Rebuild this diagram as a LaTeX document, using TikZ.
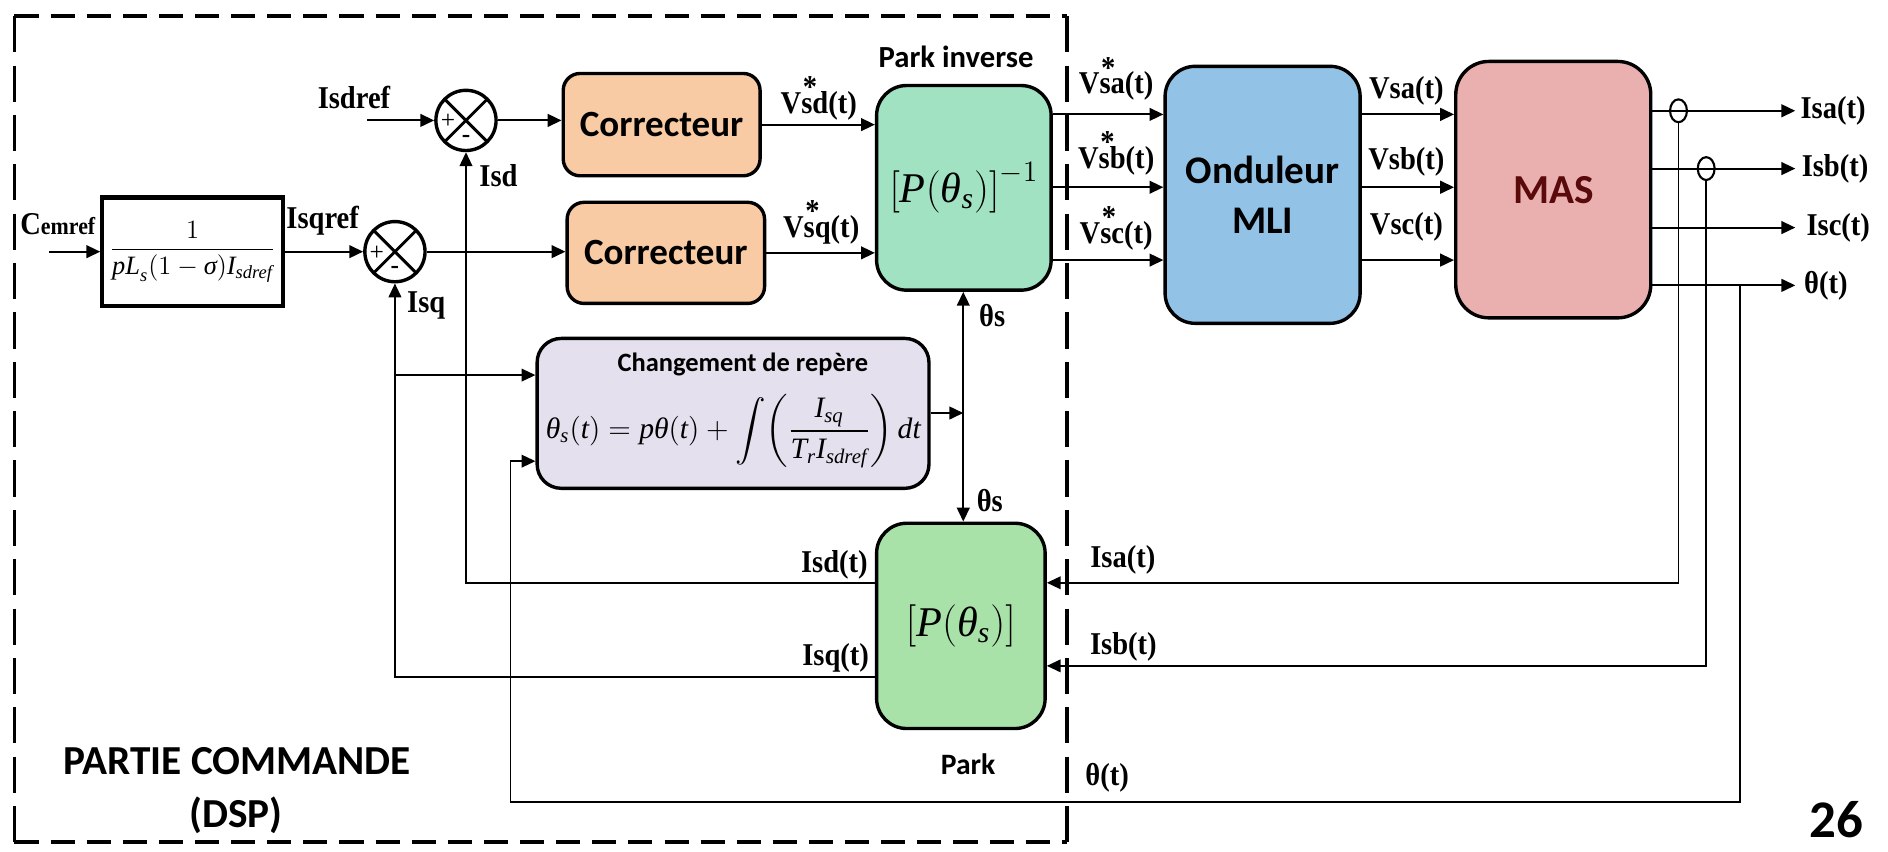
\RequirePackage{fix-cm}
\documentclass[tikz,border=0pt]{standalone}
\usepackage{amsmath}
\usepackage{fontspec}
\setmainfont{Liberation Serif}
\newfontfamily\calib{Carlito}
\newfontfamily\lblfont[FakeStretch=0.9]{Liberation Serif}
\usetikzlibrary{arrows.meta,shapes.geometric,calc}
\definecolor{corrc}{HTML}{F9CBA4}
\definecolor{pinvc}{HTML}{A0E2C2}
\definecolor{ondc}{HTML}{92C2E6}
\definecolor{masc}{HTML}{EAB0B0}
\definecolor{mastx}{HTML}{5A0A0A}
\definecolor{chgc}{HTML}{E4E0EE}
\definecolor{parkc}{HTML}{A8E2A8}
\newcommand\vst[1]{V\makebox[0pt][l]{\kern0.05em\raisebox{0.5em}{*}}#1}
\newcommand\mi[1]{\textit{#1}}
\tikzset{
  blk/.style={draw, line width=1.6pt, rounded corners=0.5cm, inner sep=0pt, align=center},
  sumj/.style={circle, draw, line width=1.6pt, minimum size=1.0cm, inner sep=0pt,
    path picture={\draw[line width=1.4pt] (path picture bounding box.north west) -- (path picture bounding box.south east)
      (path picture bounding box.north east) -- (path picture bounding box.south west);}},
  sgn/.style={inner sep=0pt, font=\fontsize{12}{12}\selectfont},
  conn/.style={line width=1pt},
  fbl/.style={line width=0.8pt},
  arr/.style={-{Triangle[length=0.23cm,width=0.21cm]}},
  lbl/.style={inner sep=0pt, font={\lblfont\bfseries\fontsize{15}{17}\selectfont}},
  clbl/.style={inner sep=0pt, font={\calib\bfseries\fontsize{14.5}{17}\selectfont}},
  sens/.style={ellipse, draw, line width=1pt, minimum width=0.28cm, minimum height=0.38cm, inner sep=0pt},
  dashH/.style={line width=1.8pt, dash pattern=on 0.4cm off 0.2cm},
  dashV/.style={line width=1.8pt, dash pattern=on 0.6cm off 0.22cm}
}
\begin{document}
\begin{tikzpicture}[x=0.02cm,y=-0.02cm]
\useasboundingbox (0,0) rectangle (1568,707);
% dashed frame
\draw[dashH] (12,13.5) -- (886,13.5);
\draw[dashH] (12,699) -- (886,699);
\draw[dashV] (12,13.5) -- (12,699);
\draw[dashV] (886,13.5) -- (886,699);

% blocks
\node[draw, line width=2pt, minimum width=3cm, minimum height=1.8cm, inner sep=0pt, fill=white,
  font=\fontsize{12.5}{15}\selectfont] (tf) at (160,209)
  {$\dfrac{1}{\mi{pL}_{\mi{s}}(1-\mi{σ})\mi{I}_{\mi{sdref}}}$};
\node[sumj] (s1) at (387,100) {};
\node[sumj] (s2) at (328,209) {};
\node[sgn] (s1p) at ($(s1)+(-15,1)$) {+};
\node[sgn] (s1m) at ($(s1)+(0,15)$) {\textbf{-}};
\node[sgn] (s2p) at ($(s2)+(-15,1)$) {+};
\node[sgn] (s2m) at ($(s2)+(0,15)$) {\textbf{-}};

\node[blk, fill=corrc, rounded corners=0.28cm, minimum width=3.27cm, minimum height=1.7cm,
  font={\calib\bfseries\fontsize{17.5}{20}\selectfont}] (corr1) at (549.5,103.5) {Correcteur};
\node[blk, fill=corrc, rounded corners=0.28cm, minimum width=3.28cm, minimum height=1.68cm,
  font={\calib\bfseries\fontsize{17.5}{20}\selectfont}] (corr2) at (553,210) {Correcteur};
\node[blk, fill=pinvc, minimum width=2.9cm, minimum height=3.4cm,
  font=\fontsize{20}{24}\selectfont] (pinv) at (800.5,156) {$\left[\mi{P}(\mi{θ}_{\mi{s}})\right]^{-1}$};
\node[blk, fill=ondc, minimum width=3.24cm, minimum height=4.27cm,
  font={\calib\bfseries\fontsize{18.5}{24}\selectfont}] (ond) at (1048.6,161.8) {Onduleur\\MLI};
\node[blk, fill=masc, rounded corners=0.55cm, minimum width=3.24cm, minimum height=4.26cm,
  text=mastx, font={\calib\bfseries\fontsize{19.5}{24}\selectfont}] (mas) at (1290,157.5) {MAS};
\node[blk, fill=chgc, rounded corners=0.4cm, minimum width=6.51cm, minimum height=2.49cm] (chg) at (608.8,343.3) {};
\node[blk, fill=parkc, minimum width=2.8cm, minimum height=3.41cm,
  font=\fontsize{20}{24}\selectfont] (park) at (798,519.8) {$\left[\mi{P}(\mi{θ}_{\mi{s}})\right]$};
\node[clbl, font={\calib\bfseries\fontsize{12.5}{15}\selectfont}] (chgt) at (617,303) {Changement de repère};
\node[inner sep=0pt, font=\fontsize{14}{17}\selectfont] (chgf) at (609,358)
  {$\mi{θ}_{\mi{s}}(\mi{t})=\mi{pθ}(\mi{t})+\displaystyle\int\!\left(\dfrac{\mi{I}_{\mi{sq}}}{\mi{T}_{\mi{r}}\mi{I}_{\mi{sdref}}}\right)\mi{dt}$};

% coordinates
\coordinate (isdin) at (305,100);
\coordinate (cin) at (41,209);
\coordinate (ya) at (0,95);
\coordinate (yb) at (0,155.5);
\coordinate (yc) at (0,216);
\coordinate (ma) at (0,92);
\coordinate (mb) at (0,140);
\coordinate (mc) at (0,189);
\coordinate (mt) at (0,237);
\coordinate (ea) at (1491,92);
\coordinate (eb) at (1491,140);
\coordinate (ec) at (1491,189);
\coordinate (et) at (1491,237);
\coordinate (fa) at (0,484);
\coordinate (fb) at (0,553);
\coordinate (fq) at (0,562);
\coordinate (tst) at (1445,237);
\coordinate (tbl) at (424,666);
\coordinate (yci) at (0,383);
\coordinate (yq) at (0,311.5);
\coordinate (jth) at (800,343);

% forward connectors
\draw[conn,arr] (isdin) -- (s1.west);
\draw[conn,arr] (cin) -- (tf.west);
\draw[conn,arr] (tf.east) -- (s2.west);
\draw[conn,arr] (s1.east) -- (s1.east -| corr1.west);
\draw[conn,arr] (s2.east) -- (s2.east -| corr2.west);
\draw[conn,arr] (corr1.east) -- (corr1.east -| pinv.west);
\draw[conn,arr] (corr2.east) -- (corr2.east -| pinv.west);
\draw[conn,arr] (pinv.east |- ya) -- (ond.west |- ya);
\draw[conn,arr] (pinv.east |- yb) -- (ond.west |- yb);
\draw[conn,arr] (pinv.east |- yc) -- (ond.west |- yc);
\draw[conn,arr] (ond.east |- ya) -- (mas.west |- ya);
\draw[conn,arr] (ond.east |- yb) -- (mas.west |- yb);
\draw[conn,arr] (ond.east |- yc) -- (mas.west |- yc);
\draw[conn,arr] (mas.east |- ma) -- (ea);
\draw[conn,arr] (mas.east |- mb) -- (eb);
\draw[conn,arr] (mas.east |- mc) -- (ec);
\draw[conn,arr] (mas.east |- mt) -- (et);
\node[sens] (sa) at (1394,92) {};
\node[sens] (sb) at (1417,140) {};

% feedback
\draw[fbl,arr] (sa.south) |- (park.east |- fa);
\draw[fbl,arr] (sb.south) |- (park.east |- fb);
\draw[fbl,arr] (tst) |- (tbl) |- (chg.west |- yci);
\draw[fbl,arr] (park.west |- fa) -| (s1.south);
\draw[fbl,arr] (park.west |- fq) -| (s2.south);
\draw[fbl,arr] (s2.south |- yq) -- (chg.west |- yq);
\draw[conn,arr] (chg.east |- jth) -- (jth);
\draw[conn,arr] (jth) -- (jth |- pinv.south);
\draw[conn,arr] (jth) -- (jth |- park.north);

% labels
\node[lbl] (lisdref) at (294,81) {Isdref};
\node[lbl] (lisqref) at (268,183) {Isqref};
\node[lbl] (lcem) at (48,186) {C{\fontsize{11.5}{13}\selectfont emref}};
\node[lbl] (lisd) at (414,145.5) {Isd};
\node[lbl] (lisq) at (354,254) {Isq};
\node[lbl, anchor=base] (lvsd) at (680,94) {\vst{sd(t)}};
\node[lbl, anchor=base] (lvsq) at (682,197) {\vst{sq(t)}};
\node[lbl, anchor=base] (lvsa) at (927,78) {\vst{sa(t)}};
\node[lbl, anchor=base] (lvsb) at (927,140) {\vst{sb(t)}};
\node[lbl, anchor=base] (lvsc) at (927,202) {\vst{sc(t)}};
\node[lbl, anchor=base] (lvsa2) at (1168,82) {Vsa(t)};
\node[lbl, anchor=base] (lvsb2) at (1168,141) {Vsb(t)};
\node[lbl, anchor=base] (lvsc2) at (1168,195) {Vsc(t)};
\node[lbl, anchor=west] (lisa) at (1495,92) {Isa(t)};
\node[lbl, anchor=west] (lisb) at (1496,140) {Isb(t)};
\node[lbl, anchor=west] (lisc) at (1500,189) {Isc(t)};
\node[lbl, anchor=west] (lth) at (1498,237) {θ(t)};
\node[lbl] (lths1) at (824,262) {θs};
\node[lbl] (lths2) at (822,416) {θs};
\node[lbl] (lisdt) at (693,469) {Isd(t)};
\node[lbl] (lisqt) at (694,546) {Isq(t)};
\node[lbl] (lisafb) at (932.5,465) {Isa(t)};
\node[lbl] (lisbfb) at (933,537) {Isb(t)};
\node[lbl] (lthfb) at (919.5,646) {θ(t)};
\node[clbl] (lpinv) at (794,47) {Park inverse};
\node[clbl, font={\calib\bfseries\fontsize{14}{17}\selectfont}] (lpark) at (804,635) {Park};
\node[clbl, font={\calib\bfseries\fontsize{19.5}{23}\selectfont}] (lpc) at (197,632) {PARTIE COMMANDE};
\node[clbl, font={\calib\bfseries\fontsize{19.5}{23}\selectfont}] (ldsp) at (196,677) {(DSP)};
\node[clbl, font={\calib\bfseries\fontsize{25}{28}\selectfont}] (lnum) at (1525,681) {26};
\end{tikzpicture}
\end{document}
